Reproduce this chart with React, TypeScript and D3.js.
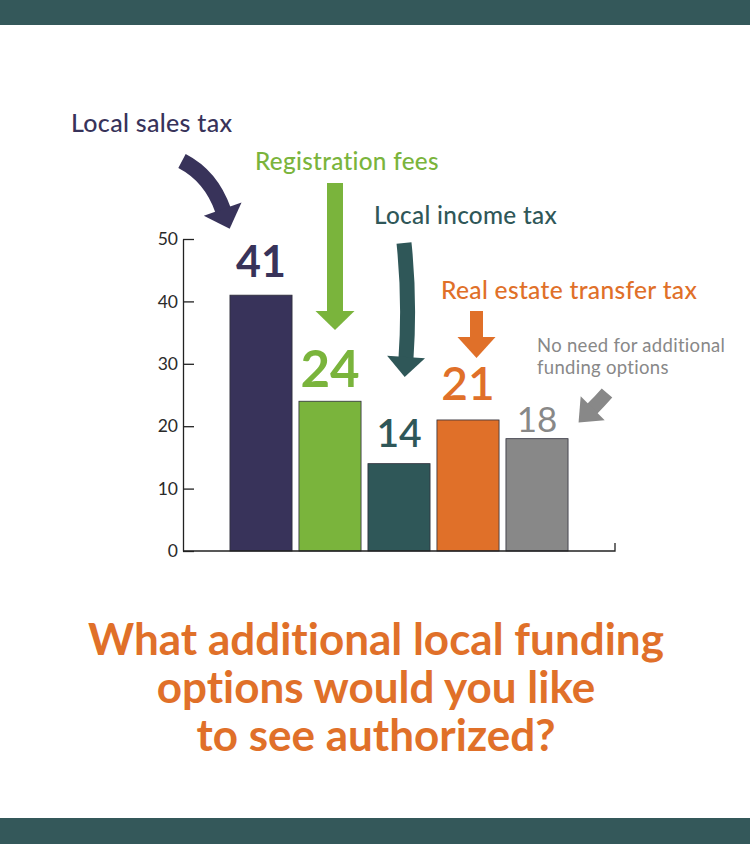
import { useEffect, useRef } from 'react';
import * as d3 from 'd3';

const categories = [
    "Local sales tax",
    "Registration fees",
    "Local income tax",
    "Real estate transfer tax",
    "No need for additional funding options"
];
const values = [41, 24, 14, 21, 18];
const yTicks = [0, 10, 20, 30, 40, 50];
const titleLines = [
    "What additional local funding",
    "options would you like",
    "to see authorized?"
];

const COLORS = ["#38335a", "#7ab43c", "#2f5758", "#e07029", "#888888"];
const FONT = "Lato, 'Noto Sans', sans-serif";

// label styles per bar (size, gap above bar top, weight)
const valueStyle = [
    { size: 43, gap: 18, weight: 700 },
    { size: 51, gap: 14, weight: 700 },
    { size: 39, gap: 17, weight: 600 },
    { size: 46, gap: 20, weight: 600 },
    { size: 35, gap: 7, weight: 400 }
];

// annotation text placement
const notes = [
    { lines: ["Local sales tax"], x: 71, y: 132, size: 25 },
    { lines: ["Registration fees"], x: 255, y: 170, size: 24.3 },
    { lines: ["Local income tax"], x: 374, y: 224, size: 24.3 },
    { lines: ["Real estate transfer tax"], x: 441, y: 299, size: 24.6 },
    { lines: ["No need for additional", "funding options"], x: 537, y: 352, size: 18.5, lh: 22, weight: 400 }
];

// annotation arrows: shaft start, control, end (head base), head sizes
const arrows = [
    { p0: [182, 161], c: [211, 176], p1: [223, 210], sw: 16, hl: 20, hw: 40 },
    { p0: [335, 183], c: [335, 250], p1: [335, 312], sw: 16, hl: 18, hw: 39 },
    { p0: [404, 243], c: [410, 300], p1: [406, 358], sw: 15, hl: 19, hw: 38 },
    { p0: [476.5, 311], c: [476.5, 325], p1: [476.5, 338], sw: 13, hl: 20, hw: 38 },
    { p0: [607, 393], c: [600, 401], p1: [592, 409], sw: 14, hl: 19, hw: 34 }
];

export default function App() {
    const svgRef = useRef<SVGSVGElement>(null);
    const width = 750;
    const height = 844;

    useEffect(() => {
        if (!svgRef.current) return;
        const svg = d3.select(svgRef.current);
        svg.selectAll("*").remove();

        const x0 = 183, x1 = 615, yBase = 551, yTop = 239;

        // bands top and bottom
        svg.append("rect").attr("x", 0).attr("y", 0).attr("width", width).attr("height", 25).attr("fill", "#34585a");
        svg.append("rect").attr("x", 0).attr("y", 818).attr("width", width).attr("height", height - 818).attr("fill", "#34585a");

        const xScale = d3.scaleBand<string>()
            .domain(categories)
            .range([226.5, 571.5])
            .paddingInner(0.1)
            .paddingOuter(0.05);

        const yScale = d3.scaleLinear()
            .domain([0, 50])
            .range([yBase, yTop]);

        // bars
        svg.selectAll(".bar")
            .data(values)
            .enter()
            .append("rect")
            .attr("class", "bar")
            .attr("x", (_, i) => xScale(categories[i]) || 0)
            .attr("y", d => yScale(d))
            .attr("width", xScale.bandwidth())
            .attr("height", d => yBase - yScale(d))
            .attr("fill", (_, i) => COLORS[i])
            .attr("stroke", "#2e2e3a")
            .attr("stroke-width", 0.8);

        // value labels
        svg.selectAll(".val")
            .data(values)
            .enter()
            .append("text")
            .attr("class", "val")
            .attr("x", (_, i) => (xScale(categories[i]) || 0) + xScale.bandwidth() / 2)
            .attr("y", (d, i) => yScale(d) - valueStyle[i].gap)
            .attr("text-anchor", "middle")
            .style("font-family", FONT)
            .style("font-size", (_, i) => valueStyle[i].size + "px")
            .style("font-weight", (_, i) => valueStyle[i].weight)
            .attr("fill", (_, i) => COLORS[i])
            .text(d => d);

        // y axis, ticks pointing inward
        const yAxis = svg.append("g")
            .attr("transform", `translate(${x0},0)`)
            .call(d3.axisLeft(yScale).tickValues(yTicks).tickSize(-11).tickSizeOuter(0).tickPadding(5));
        yAxis.select(".domain").attr("stroke", "#222").attr("stroke-width", 1.3);
        yAxis.selectAll(".tick line").attr("stroke", "#222").attr("stroke-width", 1.3);
        yAxis.selectAll("text")
            .style("font-family", FONT)
            .style("font-size", "17.5px")
            .attr("fill", "#2a2a2a");

        // x axis line with end tick
        svg.append("path")
            .attr("d", `M${x0},${yBase}H${x1}V${yBase - 8}`)
            .attr("fill", "none")
            .attr("stroke", "#222")
            .attr("stroke-width", 1.3);

        // arrows
        arrows.forEach((a, i) => {
            const col = COLORS[i];
            const path = d3.path();
            path.moveTo(a.p0[0], a.p0[1]);
            path.quadraticCurveTo(a.c[0], a.c[1], a.p1[0], a.p1[1]);
            svg.append("path")
                .attr("d", path.toString())
                .attr("fill", "none")
                .attr("stroke", col)
                .attr("stroke-width", a.sw);
            const dx = a.p1[0] - a.c[0], dy = a.p1[1] - a.c[1];
            const len = Math.hypot(dx, dy);
            const ux = dx / len, uy = dy / len;
            const px = -uy, py = ux;
            const tip = [a.p1[0] + ux * a.hl, a.p1[1] + uy * a.hl];
            const b1 = [a.p1[0] + px * a.hw / 2 - ux, a.p1[1] + py * a.hw / 2 - uy];
            const b2 = [a.p1[0] - px * a.hw / 2 - ux, a.p1[1] - py * a.hw / 2 - uy];
            svg.append("path")
                .attr("d", `M${b1[0]},${b1[1]}L${tip[0]},${tip[1]}L${b2[0]},${b2[1]}Z`)
                .attr("fill", col);
        });

        // annotation labels
        notes.forEach((n, i) => {
            const t = svg.append("text")
                .attr("x", n.x)
                .attr("y", n.y)
                .style("font-family", FONT)
                .style("font-size", n.size + "px")
                .style("font-weight", n.weight ?? 500)
                .style("letter-spacing", "0.3px")
                .style("font-variant-ligatures", "none")
                .attr("fill", COLORS[i]);
            n.lines.forEach((l, j) => {
                t.append("tspan").attr("x", n.x).attr("dy", j === 0 ? 0 : (n.lh ?? 0)).text(l);
            });
        });

        // title
        svg.append("text")
            .attr("x", 376)
            .attr("text-anchor", "middle")
            .style("font-family", FONT)
            .style("font-size", "44px")
            .style("font-weight", 700)
            .style("font-variant-ligatures", "none")
            .attr("fill", "#e07029")
            .selectAll("tspan")
            .data(titleLines)
            .enter()
            .append("tspan")
            .attr("x", 376)
            .attr("y", (_, i) => 655 + i * 48)
            .text(d => d);
    }, []);

    return (
        <div style={{ position: 'absolute', left: 0, top: 0, width, height, background: '#fff' }}>
            <svg ref={svgRef} width={width} height={height} style={{ display: 'block' }} />
        </div>
    );
}
